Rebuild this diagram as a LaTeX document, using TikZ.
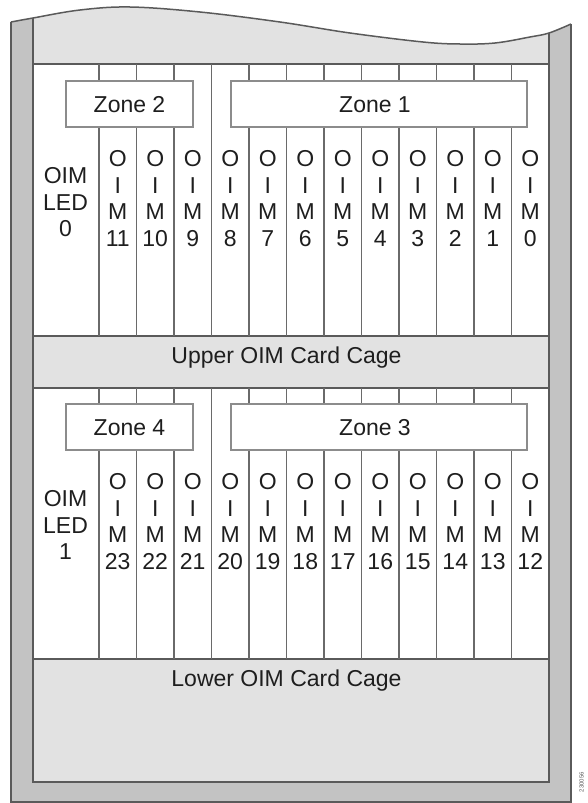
\documentclass[tikz,border=0pt]{standalone}
\usepackage{fontspec}
\setmainfont{Liberation Sans}
\definecolor{txt}{HTML}{1E1E1E}
\definecolor{ln}{HTML}{6A6A6A}
\definecolor{fr}{HTML}{5A5A5A}
\definecolor{stripc}{HTML}{C3C3C3}
\definecolor{light}{HTML}{E2E2E2}
\definecolor{zb}{HTML}{8C8C8C}
\begin{document}
\begin{tikzpicture}[x=1pt,y=-1pt,
  lbl/.style={anchor=base,inner sep=0pt,text=txt,font=\fontsize{23}{27}\selectfont},
  slot/.style={draw=ln,line width=1.4pt},
  frame/.style={draw=fr,line width=1.2pt},
  zonebox/.style={draw=zb,fill=white,line width=1.2pt,inner sep=0pt,minimum width=127pt,minimum height=46pt},
  bigzone/.style={zonebox,minimum width=296pt}]
\useasboundingbox (0,0) rectangle (587,803);
% chassis with wavy cut top
\begin{scope}
\clip (11,803) -- plot[smooth,tension=0.6] coordinates {(11,22) (33,18) (80,10) (130,7) (200,12) (280,22) (350,33) (423,42) (460,44) (495,43) (530,37) (549,33) (571,24)} -- (571,803) -- cycle;
\fill[stripc] (0,0) rectangle (587,803);
\fill[light] (33,0) rectangle (549,782);
\end{scope}
\fill[white] (33,64) rectangle (549,336);
\fill[white] (33,388) rectangle (549,659);
\draw[frame,line width=1.5pt] plot[smooth,tension=0.6] coordinates {(11,22) (33,18) (80,10) (130,7) (200,12) (280,22) (350,33) (423,42) (460,44) (495,43) (530,37) (549,33) (571,24)};
\draw[frame] (11,22) -- (11,802) -- (571,802) -- (571,24);
\draw[frame] (33,18) -- (33,782) -- (549,782) -- (549,33);
\foreach \yy in {64,336,388,659} \draw[frame] (33,\yy) -- (549,\yy);
% slot separators
\foreach \k in {0,1,2,4,5,6,7,8,9,10,11} {
  \pgfmathsetmacro\xb{99+37.5*\k}
  \draw[slot] (\xb,64) -- (\xb,81);
  \draw[slot] (\xb,127) -- (\xb,336);
  \draw[slot] (\xb,388) -- (\xb,404);
  \draw[slot] (\xb,450) -- (\xb,659);
}
\draw[slot] (211.5,64) -- (211.5,336);
\draw[slot] (211.5,388) -- (211.5,659);
% zone boxes
\node[zonebox] (z2) at (129.5,104) {};
\node[bigzone] (z1) at (379,104) {};
\node[zonebox] (z4) at (129.5,427) {};
\node[bigzone] (z3) at (379,427) {};
\node[lbl] (z2t) at (129.5,112) {Zone 2};
\node[lbl] (z1t) at (375,112) {Zone 1};
\node[lbl] (z4t) at (129.5,435) {Zone 4};
\node[lbl] (z3t) at (375,435) {Zone 3};
% cage labels
\node[lbl] (uc) at (286.5,363) {Upper OIM Card Cage};
\node[lbl] (lc) at (286.5,686) {Lower OIM Card Cage};
% LED labels
\node[lbl] (led0a) at (65.5,183) {OIM};
\node[lbl] (led0b) at (65.5,210) {LED};
\node[lbl] (led0c) at (65.5,236) {0};
\node[lbl] (led1a) at (65.5,506) {OIM};
\node[lbl] (led1b) at (65.5,533) {LED};
\node[lbl] (led1c) at (65.5,559) {1};
% column labels
\foreach \i in {0,...,11} {
  \pgfmathsetmacro\xc{117.75+37.5*\i}
  \pgfmathtruncatemacro\n{11-\i}
  \pgfmathtruncatemacro\m{23-\i}
  \node[lbl] (uo\i) at (\xc,166) {O};
  \node[lbl] (ui\i) at (\xc,193) {I};
  \node[lbl] (um\i) at (\xc,219) {M};
  \node[lbl] (un\i) at (\xc,246) {\n};
  \node[lbl] (lo\i) at (\xc,489) {O};
  \node[lbl] (li\i) at (\xc,516) {I};
  \node[lbl] (lm\i) at (\xc,542) {M};
  \node[lbl] (ln\i) at (\xc,569) {\m};
}
\node[rotate=90,inner sep=0pt,text=fr,font=\fontsize{6}{7}\selectfont] (fig) at (581.5,782) {230056};
\end{tikzpicture}
\end{document}
